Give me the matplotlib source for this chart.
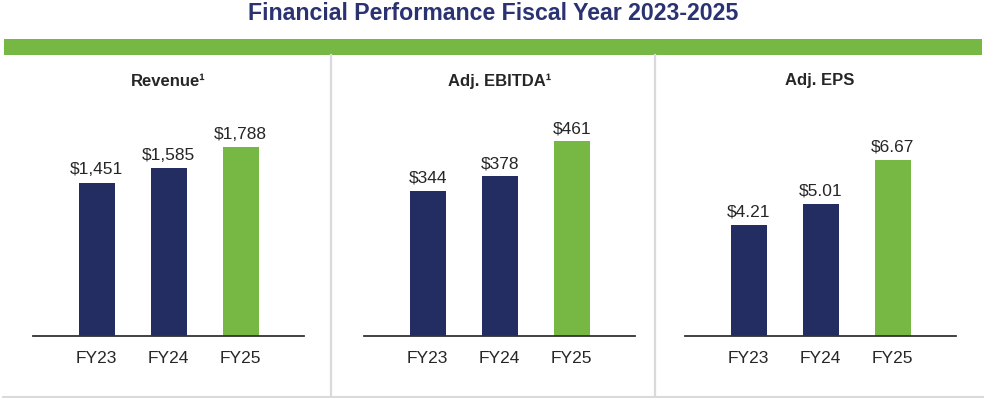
import matplotlib
matplotlib.use("Agg")
import matplotlib.pyplot as plt
from matplotlib.lines import Line2D
from matplotlib.patches import Rectangle

plt.rcParams['font.family'] = ['Liberation Sans', 'DejaVu Sans']

title = "Financial Performance Fiscal Year 2023-2025"
categories = ["FY23", "FY24", "FY25"]
panel_titles = ["Revenue\u00b9", "Adj. EBITDA\u00b9", "Adj. EPS"]
revenue = [1451, 1585, 1788]
ebitda = [344, 378, 461]
eps = [4.21, 5.01, 6.67]
revenue_labels = ["$1,451", "$1,585", "$1,788"]
ebitda_labels = ["$344", "$378", "$461"]
eps_labels = ["$4.21", "$5.01", "$6.67"]

NAVY = "#232D62"
GREEN = "#76B843"
TITLE_COLOR = "#2B3272"
TEXT = "#262626"
SEP = "#DADADA"

W, H = 987, 398
fig = plt.figure(figsize=(W / 100, H / 100), dpi=100)
fig.patch.set_facecolor("white")

# Title
fig.text(493.5 / W, 1 - 13.5 / H, title, ha="center", va="center",
         fontsize=16.7, fontweight="bold", color=TITLE_COLOR)

# Green band
fig.patches.append(Rectangle((4 / W, 1 - 54.5 / H), (982 - 4) / W, 16 / H,
                             transform=fig.transFigure, facecolor=GREEN,
                             edgecolor="none", zorder=1))
# Separators
for sx in (331.5, 655.5):
    fig.lines.append(Line2D([sx / W, sx / W], [1 - 55 / H, 1 - 395 / H],
                            transform=fig.transFigure, color=SEP, lw=1.6))
fig.lines.append(Line2D([3 / W, 982 / W], [1 - 396.5 / H, 1 - 396.5 / H],
                        transform=fig.transFigure, color=SEP, lw=2.2))

series = [revenue, ebitda, eps]
labels = [revenue_labels, ebitda_labels, eps_labels]
lefts = [33, 364, 685]
centers = [168.5, 499.3, 820]
# px per unit for each panel
scales = [0.1054, 0.421, 26.3]
base_y = 335.5
top_y = 95.0
colors = [NAVY, NAVY, GREEN]

for i in range(3):
    x0 = lefts[i]
    ax = fig.add_axes([x0 / W, 1 - base_y / H, 271 / W, (base_y - top_y) / H])
    xs = list(range(len(categories)))
    ax.bar(xs, series[i], width=0.5, color=colors, zorder=2)
    ax.set_xlim(-0.885, 2.88)
    ax.set_ylim(0, (base_y - top_y) / scales[i])
    for s in ("top", "right", "left"):
        ax.spines[s].set_visible(False)
    ax.spines["bottom"].set_color("#333333")
    ax.spines["bottom"].set_linewidth(1.3)
    ax.set_yticks([])
    ax.set_xticks(xs)
    ax.set_xticklabels(categories, fontsize=12.5, color=TEXT)
    ax.tick_params(axis="x", length=0, pad=11)
    ax.patch.set_alpha(0)
    for x, v, lab in zip(xs, series[i], labels[i]):
        ax.annotate(lab, (x, v), xytext=(0, 6), textcoords="offset points",
                    ha="center", va="baseline", fontsize=12.5, color=TEXT)
    fig.text(centers[i] / W, 1 - 81 / H, panel_titles[i], ha="center",
             va="center", fontsize=12, fontweight="bold", color=TEXT)

fig.savefig("out.png", dpi=100)
